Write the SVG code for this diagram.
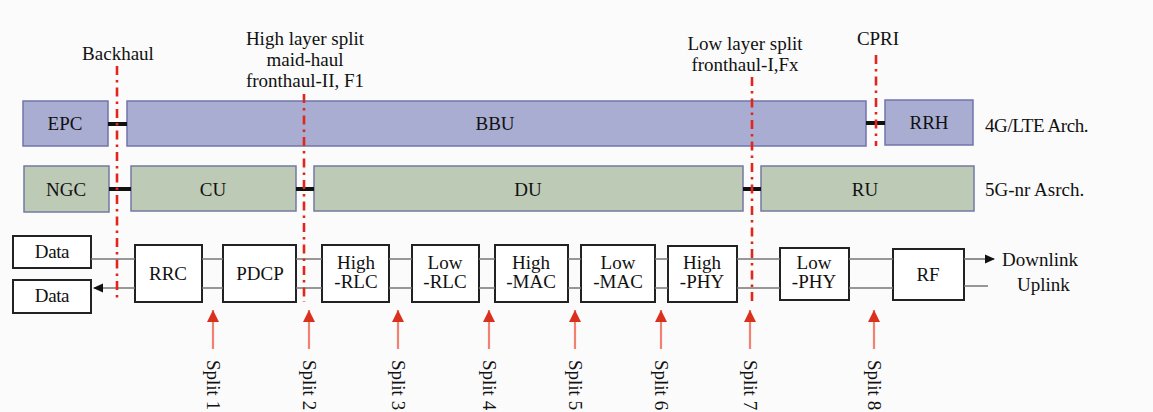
<svg xmlns="http://www.w3.org/2000/svg" width="1153" height="412" viewBox="0 0 1153 412">
<defs>
<style>
text{font-family:"Liberation Serif","Times New Roman",serif;fill:#111;font-size:19px}
.c{text-anchor:middle}
.blue{fill:#a9add2;stroke:#7076aa;stroke-width:1.5}
.green{fill:#bdcab5;stroke:#737aa2;stroke-width:1.5}
.blk{fill:#fff;stroke:#222;stroke-width:2}
.red{stroke:#e2261c;stroke-width:2.6;stroke-dasharray:9 5 2.5 5;fill:none}
.bar{stroke:#111;stroke-width:4}
.ln{stroke:#777;stroke-width:1.6;fill:none}
.sp{stroke:#f2826f;stroke-width:2.2}
</style>
<marker id="ah" markerWidth="10" markerHeight="10" refX="9" refY="5" orient="auto" markerUnits="userSpaceOnUse"><path d="M0,0.5 L10,5 L0,9.5 Z" fill="#111"/></marker>
<marker id="rh" markerWidth="14" markerHeight="12" refX="12" refY="6" orient="auto" markerUnits="userSpaceOnUse"><path d="M0,0 L12,6 L0,12 Z" fill="#d8321f"/></marker>
</defs>
<rect width="1153" height="412" fill="#fbfbfb"/>
<g id="labels-top">
<text class="c" x="118" y="60">Backhaul</text>
<text class="c" x="305" y="45">High layer split</text>
<text class="c" x="305" y="66">maid-haul</text>
<text class="c" x="305" y="87">fronthaul-II, F1</text>
<text class="c" x="745" y="50">Low layer split</text>
<text class="c" x="745" y="71">fronthaul-I,Fx</text>
<text class="c" x="878" y="45">CPRI</text>
<text x="985" y="132" letter-spacing="-0.4">4G/LTE Arch.</text>
<text x="985" y="196">5G-nr Asrch.</text>
</g>
<g id="EPC"><rect class="blue" x="23" y="101" width="85" height="45"/><text class="c" x="65" y="130">EPC</text></g>
<g id="BBU"><rect class="blue" x="127" y="101" width="739" height="45"/><text class="c" x="495" y="130">BBU</text></g>
<g id="RRH"><rect class="blue" x="885" y="100" width="88" height="45"/><text class="c" x="929" y="129">RRH</text></g>
<g id="NGC"><rect class="green" x="24" y="166" width="85" height="46"/><text class="c" x="66" y="196">NGC</text></g>
<g id="CU"><rect class="green" x="131" y="166" width="165" height="45"/><text class="c" x="213" y="196">CU</text></g>
<g id="DU"><rect class="green" x="314" y="166" width="429" height="45"/><text class="c" x="528" y="196">DU</text></g>
<g id="RU"><rect class="green" x="761" y="166" width="213" height="45"/><text class="c" x="865" y="196">RU</text></g>
<g id="Data1"><rect class="blk" x="13" y="236" width="78" height="32"/><text class="c" x="52" y="258" font-size="17" letter-spacing="-0.4">Data</text></g>
<g id="Data2"><rect class="blk" x="13" y="280" width="78" height="33"/><text class="c" x="52" y="302" font-size="17" letter-spacing="-0.4">Data</text></g>
<g id="RRC"><rect class="blk" x="135" y="245" width="67" height="57"/><text class="c" x="168" y="280">RRC</text></g>
<g id="PDCP"><rect class="blk" x="223" y="245" width="73" height="57"/><text class="c" x="260" y="280">PDCP</text></g>
<g id="HighRLC"><rect class="blk" x="322" y="245" width="67" height="57"/><text class="c" x="356" y="269">High</text><text class="c" x="356" y="288">-RLC</text></g>
<g id="LowRLC"><rect class="blk" x="412" y="245" width="67" height="57"/><text class="c" x="445" y="269">Low</text><text class="c" x="445" y="288">-RLC</text></g>
<g id="HighMAC"><rect class="blk" x="495" y="245" width="73" height="57"/><text class="c" x="531" y="269">High</text><text class="c" x="531" y="288">-MAC</text></g>
<g id="LowMAC"><rect class="blk" x="581" y="245" width="74" height="57"/><text class="c" x="618" y="269">Low</text><text class="c" x="618" y="288">-MAC</text></g>
<g id="HighPHY"><rect class="blk" x="668" y="246" width="69" height="56"/><text class="c" x="702" y="269">High</text><text class="c" x="702" y="288">-PHY</text></g>
<g id="LowPHY"><rect class="blk" x="780" y="248" width="69" height="52"/><text class="c" x="814" y="269">Low</text><text class="c" x="814" y="288">-PHY</text></g>
<g id="RF"><rect class="blk" x="893" y="249" width="71" height="51"/><text class="c" x="928" y="281">RF</text></g>
<g id="io-labels">
<text x="1002" y="266" font-size="20">Downlink</text>
<text x="1017" y="291" font-size="20">Uplink</text>
</g>
<g id="connectors">
<line class="bar" x1="108" y1="124" x2="127" y2="124"/>
<line class="bar" x1="866" y1="123" x2="885" y2="123"/>
<line class="bar" x1="109" y1="189" x2="131" y2="189"/>
<line class="bar" x1="296" y1="189" x2="314" y2="189"/>
<line class="bar" x1="743" y1="189" x2="761" y2="189"/>
<path class="ln" d="M91,259H135M202,259H223M296,259H322M389,259H412M479,259H495M568,259H581M655,259H668M737,259H780M849,259H893"/>
<path class="ln" d="M202,288H223M296,288H322M389,288H412M479,288H495M568,288H581M655,288H668M737,288H780M849,288H893M964,286H988"/>
<line class="ln" x1="135" y1="288" x2="94" y2="288" stroke="#333" marker-end="url(#ah)"/>
<line class="ln" x1="964" y1="259" x2="994" y2="259" stroke="#333" marker-end="url(#ah)"/>
<line class="red" x1="117" y1="66" x2="117" y2="302"/>
<line class="red" x1="304" y1="94" x2="304" y2="302"/>
<line class="red" x1="752" y1="77" x2="752" y2="302"/>
<line class="red" x1="876" y1="55" x2="876" y2="146"/>
<g id="split-arrows">
<line class="sp" x1="213" y1="349" x2="213" y2="310" marker-end="url(#rh)"/>
<line class="sp" x1="309" y1="349" x2="309" y2="310" marker-end="url(#rh)"/>
<line class="sp" x1="398" y1="349" x2="398" y2="310" marker-end="url(#rh)"/>
<line class="sp" x1="489" y1="349" x2="489" y2="310" marker-end="url(#rh)"/>
<line class="sp" x1="575" y1="349" x2="575" y2="310" marker-end="url(#rh)"/>
<line class="sp" x1="661" y1="349" x2="661" y2="310" marker-end="url(#rh)"/>
<line class="sp" x1="750" y1="349" x2="750" y2="310" marker-end="url(#rh)"/>
<line class="sp" x1="874" y1="349" x2="874" y2="310" marker-end="url(#rh)"/>
</g>
</g>
<g id="split-labels">
<text transform="translate(207,360) rotate(90)">Split 1</text>
<text transform="translate(303,360) rotate(90)">Split 2</text>
<text transform="translate(392,360) rotate(90)">Split 3</text>
<text transform="translate(483,360) rotate(90)">Split 4</text>
<text transform="translate(569,360) rotate(90)">Split 5</text>
<text transform="translate(655,360) rotate(90)">Split 6</text>
<text transform="translate(744,360) rotate(90)">Split 7</text>
<text transform="translate(868,360) rotate(90)">Split 8</text>
</g>
</svg>
